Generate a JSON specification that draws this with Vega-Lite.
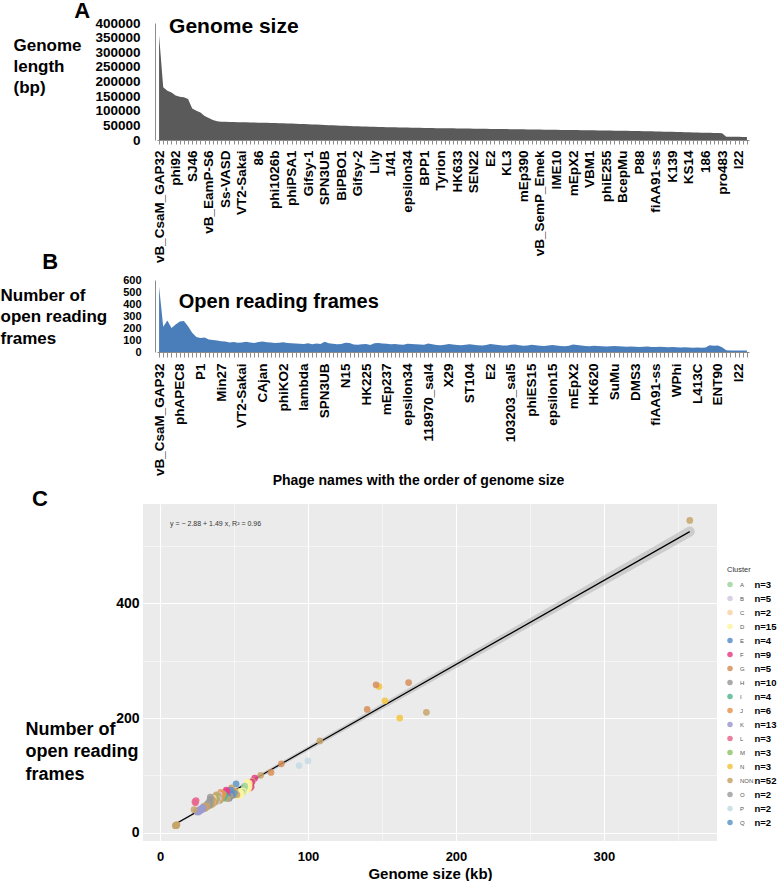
{
  "$schema": "https://vega.github.io/schema/vega-lite/v6.json",
  "background": "white",
  "padding": 0,
  "spacing": 0,
  "config": {"font": "Liberation Sans", "view": {"stroke": null}, "axis": {"labelOverlap": false}},
  "datasets": {
    "phages": [
      {"key": "000|vB_CsaM_GAP32", "genome_bp": 358000, "orfs": 545, "cluster": "NON", "cluster_n": "NON:n=52"},
      {"key": "001|", "genome_bp": 180000, "orfs": 210, "cluster": "NON", "cluster_n": "NON:n=52"},
      {"key": "002|", "genome_bp": 168000, "orfs": 262, "cluster": "G", "cluster_n": "G:n=5"},
      {"key": "003|", "genome_bp": 162000, "orfs": 200, "cluster": "N", "cluster_n": "N:n=3"},
      {"key": "004|phi92", "genome_bp": 152000, "orfs": 230, "cluster": "N", "cluster_n": "N:n=3"},
      {"key": "005|phAPEC8", "genome_bp": 148000, "orfs": 255, "cluster": "N", "cluster_n": "N:n=3"},
      {"key": "006|", "genome_bp": 146000, "orfs": 258, "cluster": "G", "cluster_n": "G:n=5"},
      {"key": "007|", "genome_bp": 140000, "orfs": 215, "cluster": "G", "cluster_n": "G:n=5"},
      {"key": "008|SJ46", "genome_bp": 108000, "orfs": 160, "cluster": "NON", "cluster_n": "NON:n=52"},
      {"key": "009|", "genome_bp": 100000, "orfs": 125, "cluster": "P", "cluster_n": "P:n=2"},
      {"key": "010|P1", "genome_bp": 94000, "orfs": 117, "cluster": "P", "cluster_n": "P:n=2"},
      {"key": "011|", "genome_bp": 82000, "orfs": 120, "cluster": "G", "cluster_n": "G:n=5"},
      {"key": "012|vB_EamP-S6", "genome_bp": 75000, "orfs": 105, "cluster": "G", "cluster_n": "G:n=5"},
      {"key": "013|", "genome_bp": 68000, "orfs": 100, "cluster": "NON", "cluster_n": "NON:n=52"},
      {"key": "014|", "genome_bp": 64000, "orfs": 95, "cluster": "F", "cluster_n": "F:n=9"},
      {"key": "015|Min27", "genome_bp": 62500, "orfs": 90, "cluster": "NON", "cluster_n": "NON:n=52"},
      {"key": "016|Ss-VASD", "genome_bp": 62000, "orfs": 88, "cluster": "F", "cluster_n": "F:n=9"},
      {"key": "017|", "genome_bp": 61600, "orfs": 80, "cluster": "F", "cluster_n": "F:n=9"},
      {"key": "018|", "genome_bp": 61200, "orfs": 84, "cluster": "F", "cluster_n": "F:n=9"},
      {"key": "019|", "genome_bp": 60900, "orfs": 78, "cluster": "F", "cluster_n": "F:n=9"},
      {"key": "020|VT2-Sakai", "genome_bp": 60600, "orfs": 80, "cluster": "NON", "cluster_n": "NON:n=52"},
      {"key": "021|", "genome_bp": 60300, "orfs": 86, "cluster": "D", "cluster_n": "D:n=15"},
      {"key": "022|", "genome_bp": 60000, "orfs": 80, "cluster": "D", "cluster_n": "D:n=15"},
      {"key": "023|", "genome_bp": 59700, "orfs": 76, "cluster": "D", "cluster_n": "D:n=15"},
      {"key": "024|86", "genome_bp": 59400, "orfs": 84, "cluster": "D", "cluster_n": "D:n=15"},
      {"key": "025|CAjan", "genome_bp": 59100, "orfs": 88, "cluster": "D", "cluster_n": "D:n=15"},
      {"key": "026|", "genome_bp": 58800, "orfs": 82, "cluster": "D", "cluster_n": "D:n=15"},
      {"key": "027|", "genome_bp": 58400, "orfs": 79, "cluster": "D", "cluster_n": "D:n=15"},
      {"key": "028|phi1026b", "genome_bp": 58000, "orfs": 74, "cluster": "D", "cluster_n": "D:n=15"},
      {"key": "029|", "genome_bp": 57600, "orfs": 77, "cluster": "D", "cluster_n": "D:n=15"},
      {"key": "030|phiKO2", "genome_bp": 57200, "orfs": 81, "cluster": "A", "cluster_n": "A:n=3"},
      {"key": "031|", "genome_bp": 56700, "orfs": 76, "cluster": "A", "cluster_n": "A:n=3"},
      {"key": "032|phiPSA1", "genome_bp": 56200, "orfs": 73, "cluster": "D", "cluster_n": "D:n=15"},
      {"key": "033|", "genome_bp": 55600, "orfs": 70, "cluster": "A", "cluster_n": "A:n=3"},
      {"key": "034|", "genome_bp": 55000, "orfs": 68, "cluster": "D", "cluster_n": "D:n=15"},
      {"key": "035|lambda", "genome_bp": 54400, "orfs": 66, "cluster": "D", "cluster_n": "D:n=15"},
      {"key": "036|Gifsy-1", "genome_bp": 53800, "orfs": 72, "cluster": "D", "cluster_n": "D:n=15"},
      {"key": "037|", "genome_bp": 53200, "orfs": 64, "cluster": "D", "cluster_n": "D:n=15"},
      {"key": "038|", "genome_bp": 52600, "orfs": 70, "cluster": "D", "cluster_n": "D:n=15"},
      {"key": "039|", "genome_bp": 52000, "orfs": 66, "cluster": "NON", "cluster_n": "NON:n=52"},
      {"key": "040|SPN3UB", "genome_bp": 51400, "orfs": 85, "cluster": "Q", "cluster_n": "Q:n=2"},
      {"key": "041|", "genome_bp": 50800, "orfs": 72, "cluster": "NON", "cluster_n": "NON:n=52"},
      {"key": "042|", "genome_bp": 50200, "orfs": 68, "cluster": "Q", "cluster_n": "Q:n=2"},
      {"key": "043|", "genome_bp": 49600, "orfs": 65, "cluster": "NON", "cluster_n": "NON:n=52"},
      {"key": "044|BiPBO1", "genome_bp": 49000, "orfs": 66, "cluster": "E", "cluster_n": "E:n=4"},
      {"key": "045|N15", "genome_bp": 48400, "orfs": 78, "cluster": "NON", "cluster_n": "NON:n=52"},
      {"key": "046|", "genome_bp": 47800, "orfs": 74, "cluster": "E", "cluster_n": "E:n=4"},
      {"key": "047|", "genome_bp": 47300, "orfs": 63, "cluster": "NON", "cluster_n": "NON:n=52"},
      {"key": "048|Gifsy-2", "genome_bp": 46800, "orfs": 60, "cluster": "E", "cluster_n": "E:n=4"},
      {"key": "049|", "genome_bp": 46400, "orfs": 64, "cluster": "NON", "cluster_n": "NON:n=52"},
      {"key": "050|HK225", "genome_bp": 46000, "orfs": 66, "cluster": "E", "cluster_n": "E:n=4"},
      {"key": "051|", "genome_bp": 45600, "orfs": 59, "cluster": "NON", "cluster_n": "NON:n=52"},
      {"key": "052|Lily", "genome_bp": 45200, "orfs": 72, "cluster": "F", "cluster_n": "F:n=9"},
      {"key": "053|", "genome_bp": 44800, "orfs": 74, "cluster": "F", "cluster_n": "F:n=9"},
      {"key": "054|", "genome_bp": 44400, "orfs": 70, "cluster": "F", "cluster_n": "F:n=9"},
      {"key": "055|mEp237", "genome_bp": 44000, "orfs": 68, "cluster": "F", "cluster_n": "F:n=9"},
      {"key": "056|1/41", "genome_bp": 43700, "orfs": 64, "cluster": "I", "cluster_n": "I:n=4"},
      {"key": "057|", "genome_bp": 43400, "orfs": 66, "cluster": "I", "cluster_n": "I:n=4"},
      {"key": "058|", "genome_bp": 43100, "orfs": 62, "cluster": "I", "cluster_n": "I:n=4"},
      {"key": "059|", "genome_bp": 42800, "orfs": 60, "cluster": "I", "cluster_n": "I:n=4"},
      {"key": "060|epsilon34", "genome_bp": 42500, "orfs": 68, "cluster": "NON", "cluster_n": "NON:n=52"},
      {"key": "061|", "genome_bp": 42200, "orfs": 66, "cluster": "J", "cluster_n": "J:n=6"},
      {"key": "062|", "genome_bp": 41900, "orfs": 64, "cluster": "J", "cluster_n": "J:n=6"},
      {"key": "063|", "genome_bp": 41600, "orfs": 62, "cluster": "J", "cluster_n": "J:n=6"},
      {"key": "064|BPP1", "genome_bp": 41300, "orfs": 60, "cluster": "J", "cluster_n": "J:n=6"},
      {"key": "065|118970_sal4", "genome_bp": 41000, "orfs": 70, "cluster": "J", "cluster_n": "J:n=6"},
      {"key": "066|", "genome_bp": 40800, "orfs": 64, "cluster": "J", "cluster_n": "J:n=6"},
      {"key": "067|", "genome_bp": 40600, "orfs": 58, "cluster": "NON", "cluster_n": "NON:n=52"},
      {"key": "068|Tyrion", "genome_bp": 40400, "orfs": 56, "cluster": "NON", "cluster_n": "NON:n=52"},
      {"key": "069|", "genome_bp": 40200, "orfs": 60, "cluster": "NON", "cluster_n": "NON:n=52"},
      {"key": "070|X29", "genome_bp": 40000, "orfs": 66, "cluster": "B", "cluster_n": "B:n=5"},
      {"key": "071|", "genome_bp": 39800, "orfs": 62, "cluster": "NON", "cluster_n": "NON:n=52"},
      {"key": "072|HK633", "genome_bp": 39600, "orfs": 58, "cluster": "B", "cluster_n": "B:n=5"},
      {"key": "073|", "genome_bp": 39400, "orfs": 56, "cluster": "NON", "cluster_n": "NON:n=52"},
      {"key": "074|", "genome_bp": 39200, "orfs": 60, "cluster": "B", "cluster_n": "B:n=5"},
      {"key": "075|ST104", "genome_bp": 39000, "orfs": 64, "cluster": "NON", "cluster_n": "NON:n=52"},
      {"key": "076|SEN22", "genome_bp": 38800, "orfs": 60, "cluster": "B", "cluster_n": "B:n=5"},
      {"key": "077|", "genome_bp": 38600, "orfs": 56, "cluster": "NON", "cluster_n": "NON:n=52"},
      {"key": "078|", "genome_bp": 38400, "orfs": 54, "cluster": "B", "cluster_n": "B:n=5"},
      {"key": "079|", "genome_bp": 38200, "orfs": 58, "cluster": "NON", "cluster_n": "NON:n=52"},
      {"key": "080|E2", "genome_bp": 38000, "orfs": 66, "cluster": "NON", "cluster_n": "NON:n=52"},
      {"key": "081|", "genome_bp": 37800, "orfs": 62, "cluster": "M", "cluster_n": "M:n=3"},
      {"key": "082|", "genome_bp": 37600, "orfs": 58, "cluster": "NON", "cluster_n": "NON:n=52"},
      {"key": "083|", "genome_bp": 37400, "orfs": 55, "cluster": "M", "cluster_n": "M:n=3"},
      {"key": "084|KL3", "genome_bp": 37200, "orfs": 54, "cluster": "NON", "cluster_n": "NON:n=52"},
      {"key": "085|103203_sal5", "genome_bp": 37000, "orfs": 60, "cluster": "M", "cluster_n": "M:n=3"},
      {"key": "086|", "genome_bp": 36800, "orfs": 62, "cluster": "NON", "cluster_n": "NON:n=52"},
      {"key": "087|", "genome_bp": 36600, "orfs": 56, "cluster": "NON", "cluster_n": "NON:n=52"},
      {"key": "088|mEp390", "genome_bp": 36400, "orfs": 52, "cluster": "NON", "cluster_n": "NON:n=52"},
      {"key": "089|", "genome_bp": 36200, "orfs": 54, "cluster": "NON", "cluster_n": "NON:n=52"},
      {"key": "090|phiES15", "genome_bp": 36000, "orfs": 60, "cluster": "C", "cluster_n": "C:n=2"},
      {"key": "091|", "genome_bp": 35800, "orfs": 56, "cluster": "NON", "cluster_n": "NON:n=52"},
      {"key": "092|vB_SemP_Emek", "genome_bp": 35600, "orfs": 52, "cluster": "C", "cluster_n": "C:n=2"},
      {"key": "093|", "genome_bp": 35400, "orfs": 50, "cluster": "NON", "cluster_n": "NON:n=52"},
      {"key": "094|", "genome_bp": 35200, "orfs": 54, "cluster": "NON", "cluster_n": "NON:n=52"},
      {"key": "095|epsilon15", "genome_bp": 35000, "orfs": 58, "cluster": "NON", "cluster_n": "NON:n=52"},
      {"key": "096|IME10", "genome_bp": 34800, "orfs": 54, "cluster": "NON", "cluster_n": "NON:n=52"},
      {"key": "097|", "genome_bp": 34600, "orfs": 50, "cluster": "NON", "cluster_n": "NON:n=52"},
      {"key": "098|", "genome_bp": 34400, "orfs": 48, "cluster": "NON", "cluster_n": "NON:n=52"},
      {"key": "099|", "genome_bp": 34200, "orfs": 52, "cluster": "NON", "cluster_n": "NON:n=52"},
      {"key": "100|mEpX2", "genome_bp": 34000, "orfs": 62, "cluster": "H", "cluster_n": "H:n=10"},
      {"key": "101|", "genome_bp": 33800, "orfs": 58, "cluster": "H", "cluster_n": "H:n=10"},
      {"key": "102|", "genome_bp": 33600, "orfs": 54, "cluster": "H", "cluster_n": "H:n=10"},
      {"key": "103|", "genome_bp": 33400, "orfs": 50, "cluster": "H", "cluster_n": "H:n=10"},
      {"key": "104|VBM1", "genome_bp": 33200, "orfs": 48, "cluster": "H", "cluster_n": "H:n=10"},
      {"key": "105|HK620", "genome_bp": 33000, "orfs": 52, "cluster": "H", "cluster_n": "H:n=10"},
      {"key": "106|", "genome_bp": 32800, "orfs": 50, "cluster": "H", "cluster_n": "H:n=10"},
      {"key": "107|", "genome_bp": 32600, "orfs": 48, "cluster": "H", "cluster_n": "H:n=10"},
      {"key": "108|phiE255", "genome_bp": 32400, "orfs": 46, "cluster": "H", "cluster_n": "H:n=10"},
      {"key": "109|", "genome_bp": 32200, "orfs": 48, "cluster": "H", "cluster_n": "H:n=10"},
      {"key": "110|SuMu", "genome_bp": 32000, "orfs": 50, "cluster": "O", "cluster_n": "O:n=2"},
      {"key": "111|", "genome_bp": 31800, "orfs": 48, "cluster": "O", "cluster_n": "O:n=2"},
      {"key": "112|BcepMu", "genome_bp": 31600, "orfs": 46, "cluster": "NON", "cluster_n": "NON:n=52"},
      {"key": "113|", "genome_bp": 31300, "orfs": 44, "cluster": "NON", "cluster_n": "NON:n=52"},
      {"key": "114|", "genome_bp": 31000, "orfs": 46, "cluster": "NON", "cluster_n": "NON:n=52"},
      {"key": "115|DMS3", "genome_bp": 30700, "orfs": 44, "cluster": "NON", "cluster_n": "NON:n=52"},
      {"key": "116|P88", "genome_bp": 30400, "orfs": 42, "cluster": "NON", "cluster_n": "NON:n=52"},
      {"key": "117|", "genome_bp": 30100, "orfs": 44, "cluster": "NON", "cluster_n": "NON:n=52"},
      {"key": "118|", "genome_bp": 29800, "orfs": 46, "cluster": "NON", "cluster_n": "NON:n=52"},
      {"key": "119|", "genome_bp": 29500, "orfs": 42, "cluster": "NON", "cluster_n": "NON:n=52"},
      {"key": "120|fiAA91-ss", "genome_bp": 29200, "orfs": 42, "cluster": "K", "cluster_n": "K:n=13"},
      {"key": "121|", "genome_bp": 28900, "orfs": 44, "cluster": "K", "cluster_n": "K:n=13"},
      {"key": "122|", "genome_bp": 28600, "orfs": 42, "cluster": "K", "cluster_n": "K:n=13"},
      {"key": "123|", "genome_bp": 28300, "orfs": 40, "cluster": "K", "cluster_n": "K:n=13"},
      {"key": "124|K139", "genome_bp": 28000, "orfs": 42, "cluster": "K", "cluster_n": "K:n=13"},
      {"key": "125|WPhi", "genome_bp": 27600, "orfs": 40, "cluster": "K", "cluster_n": "K:n=13"},
      {"key": "126|", "genome_bp": 27200, "orfs": 38, "cluster": "K", "cluster_n": "K:n=13"},
      {"key": "127|", "genome_bp": 26800, "orfs": 40, "cluster": "K", "cluster_n": "K:n=13"},
      {"key": "128|KS14", "genome_bp": 26400, "orfs": 38, "cluster": "K", "cluster_n": "K:n=13"},
      {"key": "129|", "genome_bp": 26000, "orfs": 36, "cluster": "K", "cluster_n": "K:n=13"},
      {"key": "130|L413C", "genome_bp": 25600, "orfs": 38, "cluster": "K", "cluster_n": "K:n=13"},
      {"key": "131|", "genome_bp": 25200, "orfs": 36, "cluster": "K", "cluster_n": "K:n=13"},
      {"key": "132|186", "genome_bp": 24800, "orfs": 37, "cluster": "K", "cluster_n": "K:n=13"},
      {"key": "133|", "genome_bp": 24400, "orfs": 56, "cluster": "L", "cluster_n": "L:n=3"},
      {"key": "134|", "genome_bp": 24000, "orfs": 52, "cluster": "L", "cluster_n": "L:n=3"},
      {"key": "135|ENT90", "genome_bp": 23600, "orfs": 54, "cluster": "L", "cluster_n": "L:n=3"},
      {"key": "136|pro483", "genome_bp": 23000, "orfs": 40, "cluster": "NON", "cluster_n": "NON:n=52"},
      {"key": "137|", "genome_bp": 11500, "orfs": 14, "cluster": "NON", "cluster_n": "NON:n=52"},
      {"key": "138|", "genome_bp": 11200, "orfs": 13, "cluster": "NON", "cluster_n": "NON:n=52"},
      {"key": "139|", "genome_bp": 11000, "orfs": 12, "cluster": "NON", "cluster_n": "NON:n=52"},
      {"key": "140|I22", "genome_bp": 10800, "orfs": 13, "cluster": "NON", "cluster_n": "NON:n=52"},
      {"key": "141|", "genome_bp": 10600, "orfs": 12, "cluster": "NON", "cluster_n": "NON:n=52"},
      {"key": "142|", "genome_bp": 10400, "orfs": 12, "cluster": "NON", "cluster_n": "NON:n=52"}
    ]
  },
  "data": {"name": "phages"},
  "vconcat": [
    {
      "width": 620,
      "height": 117,
      "layer": [
        {
          "mark": {"type": "area", "color": "#5a5a5a"},
          "encoding": {
            "x": {
              "field": "key", "type": "ordinal",
              "scale": {"type": "point", "range": [14, 606]},
              "axis": {
                "title": null, "labelAngle": 270, "labelFontSize": 13.5, "labelFontWeight": "bold",
                "labelColor": "black", "labelPadding": 6, "labelOverlap": false,
                "labelExpr": "toNumber(slice(datum.value,0,3)) % 4 === 0 ? slice(datum.value,4) : ''",
                "tickSize": 4, "tickColor": "#8c8c8c", "domainColor": "#8c8c8c", "grid": false
              }
            },
            "y": {
              "field": "genome_bp", "type": "quantitative",
              "scale": {"domain": [0, 400000], "nice": false},
              "axis": {
                "title": ["Genome", "length", "(bp)"], "titleAngle": 0, "titleAlign": "left", "titleBaseline": "top",
                "titleX": -142, "titleY": 14, "titleFontSize": 17, "titleFontWeight": "bold", "titleColor": "black",
                "titleLineHeight": 21,
                "values": [0, 50000, 100000, 150000, 200000, 250000, 300000, 350000, 400000],
                "format": "d", "labelOverlap": false,
                "labelFontSize": 13.5, "labelFontWeight": "bold", "labelColor": "black",
                "ticks": false, "labelPadding": 15, "domainColor": "#8c8c8c", "grid": false, "offset": -12
              }
            }
          }
        },
        {
          "data": {"values": [{"label": "Genome size"}]},
          "mark": {"type": "text", "align": "left", "baseline": "middle", "fontSize": 21, "fontWeight": "bold", "color": "black", "dx": 1.7},
          "encoding": {
            "x": {"datum": "002|", "type": "ordinal"},
            "y": {"datum": 386000, "type": "quantitative", "axis": {
                "title": ["Genome", "length", "(bp)"], "titleAngle": 0, "titleAlign": "left", "titleBaseline": "top",
                "titleX": -142, "titleY": 14, "titleFontSize": 17, "titleFontWeight": "bold", "titleColor": "black",
                "titleLineHeight": 21,
                "values": [0, 50000, 100000, 150000, 200000, 250000, 300000, 350000, 400000],
                "format": "d", "labelOverlap": false,
                "labelFontSize": 13.5, "labelFontWeight": "bold", "labelColor": "black",
                "ticks": false, "labelPadding": 15, "domainColor": "#8c8c8c", "grid": false, "offset": -12
            }},
            "text": {"field": "label"}
          }
        },
        {
          "data": {"values": [{"label": "A"}]},
          "mark": {"type": "text", "align": "center", "baseline": "middle", "fontSize": 22, "fontWeight": "bold", "color": "black", "dx": -77},
          "encoding": {
            "x": {"datum": "000|vB_CsaM_GAP32", "type": "ordinal"},
            "y": {"datum": 440000, "type": "quantitative", "axis": {
                "title": ["Genome", "length", "(bp)"], "titleAngle": 0, "titleAlign": "left", "titleBaseline": "top",
                "titleX": -142, "titleY": 14, "titleFontSize": 17, "titleFontWeight": "bold", "titleColor": "black",
                "titleLineHeight": 21,
                "values": [0, 50000, 100000, 150000, 200000, 250000, 300000, 350000, 400000],
                "format": "d", "labelOverlap": false,
                "labelFontSize": 13.5, "labelFontWeight": "bold", "labelColor": "black",
                "ticks": false, "labelPadding": 15, "domainColor": "#8c8c8c", "grid": false, "offset": -12
            }},
            "text": {"field": "label"}
          }
        },
        {
          "data": {"values": [{"label": "B"}]},
          "mark": {"type": "text", "align": "center", "baseline": "middle", "fontSize": 22, "fontWeight": "bold", "color": "black", "dx": -109},
          "encoding": {
            "x": {"datum": "000|vB_CsaM_GAP32", "type": "ordinal"},
            "y": {"datum": -418500, "type": "quantitative", "axis": {
                "title": ["Genome", "length", "(bp)"], "titleAngle": 0, "titleAlign": "left", "titleBaseline": "top",
                "titleX": -142, "titleY": 14, "titleFontSize": 17, "titleFontWeight": "bold", "titleColor": "black",
                "titleLineHeight": 21,
                "values": [0, 50000, 100000, 150000, 200000, 250000, 300000, 350000, 400000],
                "format": "d", "labelOverlap": false,
                "labelFontSize": 13.5, "labelFontWeight": "bold", "labelColor": "black",
                "ticks": false, "labelPadding": 15, "domainColor": "#8c8c8c", "grid": false, "offset": -12
            }},
            "text": {"field": "label"}
          }
        }
      ]
    },
    {
      "width": 620,
      "height": 72,
      "layer": [
        {
          "mark": {"type": "area", "color": "#4a7ebb"},
          "encoding": {
            "x": {
              "field": "key", "type": "ordinal",
              "scale": {"type": "point", "range": [14, 606]},
              "axis": {
                "title": "Phage names with the order of genome size", "titleFontSize": 14, "titleFontWeight": "bold",
                "titleColor": "black", "titleX": 275, "titleY": 128.4, "titleBaseline": "middle", "titleAlign": "center",
                "labelAngle": 270, "labelFontSize": 13.5, "labelFontWeight": "bold",
                "labelColor": "black", "labelPadding": 6, "labelOverlap": false,
                "labelExpr": "toNumber(slice(datum.value,0,3)) % 5 === 0 ? slice(datum.value,4) : ''",
                "tickSize": 5, "tickColor": "#8c8c8c", "domainColor": "#8c8c8c", "grid": false
              }
            },
            "y": {
              "field": "orfs", "type": "quantitative",
              "scale": {"domain": [0, 600], "nice": false},
              "axis": {
                "title": ["Number of", "open reading", "frames"], "titleAngle": 0, "titleAlign": "left", "titleBaseline": "top",
                "titleX": -155, "titleY": 7, "titleFontSize": 17, "titleFontWeight": "bold", "titleColor": "black",
                "titleLineHeight": 21.7,
                "values": [0, 100, 200, 300, 400, 500, 600], "labelOverlap": false,
                "labelFontSize": 11, "labelFontWeight": "bold", "labelColor": "black",
                "ticks": false, "labelPadding": 14, "domainColor": "#8c8c8c", "grid": false, "offset": -12
              }
            }
          }
        },
        {
          "data": {"values": [{"label": "Open reading frames"}]},
          "mark": {"type": "text", "align": "left", "baseline": "middle", "fontSize": 20, "fontWeight": "bold", "color": "black", "dx": -1},
          "encoding": {
            "x": {"datum": "005|phAPEC8", "type": "ordinal"},
            "y": {"datum": 416.7, "type": "quantitative", "axis": {
                "title": ["Number of", "open reading", "frames"], "titleAngle": 0, "titleAlign": "left", "titleBaseline": "top",
                "titleX": -155, "titleY": 7, "titleFontSize": 17, "titleFontWeight": "bold", "titleColor": "black",
                "titleLineHeight": 21.7,
                "values": [0, 100, 200, 300, 400, 500, 600], "labelOverlap": false,
                "labelFontSize": 11, "labelFontWeight": "bold", "labelColor": "black",
                "ticks": false, "labelPadding": 14, "domainColor": "#8c8c8c", "grid": false, "offset": -12
            }},
            "text": {"field": "label"}
          }
        }
      ]
    },
    {
      "width": 574,
      "height": 337,
      "view": {"fill": "#ebebeb", "stroke": null},
      "layer": [
        {
          "transform": [{"regression": "orfs", "on": "genome_bp"}],
          "mark": {"type": "trail", "color": "#9e9e9e", "opacity": 0.4},
          "encoding": {
            "x": {
              "field": "genome_bp", "type": "quantitative",
              "scale": {"domain": [-11500, 376400], "nice": false, "zero": false},
              "axis": {
                "title": "Genome size (kb)", "titleFontSize": 15, "titleFontWeight": "bold", "titleColor": "black", "titlePadding": 3,
                "values": [0, 50000, 100000, 150000, 200000, 250000, 300000, 350000],
                "labelExpr": "datum.value % 100000 === 0 ? format(datum.value / 1000, 'd') : ''",
                "labelFontSize": 13, "labelFontWeight": "bold", "labelColor": "black", "labelPadding": 9,
                "ticks": false, "domain": false,
                "grid": true, "gridColor": "white",
                "gridWidth": {"condition": {"test": "datum.value % 100000 === 0", "value": 1.1}, "value": 0.5}
              }
            },
            "y": {
              "field": "orfs", "type": "quantitative",
              "scale": {"domain": [-14.75, 573.75], "nice": false, "zero": false},
              "axis": {
                "title": ["Number of", "open reading", "frames"], "titleAngle": 0, "titleAlign": "left", "titleBaseline": "top",
                "titleX": -118, "titleY": 216, "titleFontSize": 18, "titleFontWeight": "bold", "titleColor": "black",
                "titleLineHeight": 22.5,
                "values": [0, 100, 200, 300, 400, 500],
                "labelExpr": "datum.value % 200 === 0 ? datum.label : ''",
                "labelFontSize": 14, "labelFontWeight": "bold", "labelColor": "black", "labelPadding": 4,
                "ticks": false, "domain": false,
                "grid": true, "gridColor": "white",
                "gridWidth": {"condition": {"test": "datum.value % 200 === 0", "value": 1.1}, "value": 0.5}
              }
            },
            "size": {"field": "genome_bp", "type": "quantitative", "scale": {"domain": [10400, 358000], "range": [2, 10]}, "legend": null}
          }
        },
        {
          "transform": [{"regression": "orfs", "on": "genome_bp"}],
          "mark": {"type": "line", "color": "black", "strokeWidth": 1.2},
          "encoding": {
            "x": {"field": "genome_bp", "type": "quantitative"},
            "y": {"field": "orfs", "type": "quantitative"}
          }
        },
        {
          "mark": {"type": "point", "filled": true, "size": 45, "opacity": 0.85, "strokeWidth": 0},
          "encoding": {
            "x": {"field": "genome_bp", "type": "quantitative"},
            "y": {"field": "orfs", "type": "quantitative"},
            "color": {
              "field": "cluster", "type": "nominal",
              "scale": {
                "domain": ["A", "B", "C", "D", "E", "F", "G", "H", "I", "J", "K", "L", "M", "N", "NON", "O", "P", "Q"],
                "range": ["#9fd3a0", "#d3c8e0", "#f8d3a8", "#fdf5a0", "#5b8fc9", "#e7408a", "#d68f5b", "#9b9b9b", "#57b98f", "#e8944f", "#9c9bcf", "#e9698f", "#93c66b", "#f2c43d", "#c7a56a", "#a0a0a0", "#c6dce4", "#5e98c8"]
              },
              "legend": {
                "title": "Cluster", "orient": "none", "legendX": 584, "legendY": 543,
                "titleFontSize": 7.5, "titleFontWeight": "normal", "titleColor": "#333333", "titlePadding": 4,
                "labelFontSize": 6, "labelColor": "#555555", "labelOffset": 7,
                "symbolType": "circle", "symbolSize": 30, "symbolStrokeWidth": 0,
                "clipHeight": 14, "rowPadding": -2.75, "padding": 0
              }
            },
            "shape": {
              "field": "cluster_n", "type": "nominal",
              "scale": {"range": ["circle"]},
              "legend": {
                "title": " ", "titleOpacity": 0, "orient": "none", "legendX": 602, "legendY": 543,
                "titleFontSize": 7.5, "titleFontWeight": "normal", "titlePadding": 4,
                "labelExpr": "split(datum.label, ':')[1]",
                "labelFontSize": 9.5, "labelFontWeight": "bold", "labelColor": "black", "labelOffset": 0,
                "symbolSize": 1, "symbolOpacity": 0, "symbolStrokeWidth": 0,
                "clipHeight": 14, "rowPadding": -2.75, "padding": 0
              }
            }
          }
        },
        {
          "data": {"values": [{"label": "y = − 2.88 + 1.49 x,  R² = 0.96"}]},
          "mark": {"type": "text", "align": "left", "baseline": "middle", "fontSize": 7, "color": "#333333"},
          "encoding": {"x": {"datum": 6750, "type": "quantitative"}, "y": {"datum": 538.8, "type": "quantitative"}, "text": {"field": "label"}}
        },
        {
          "data": {"values": [{"label": "C"}]},
          "mark": {"type": "text", "align": "center", "baseline": "middle", "fontSize": 22, "fontWeight": "bold", "color": "black"},
          "encoding": {"x": {"datum": -81100, "type": "quantitative"}, "y": {"datum": 582.3, "type": "quantitative"}, "text": {"field": "label"}}
        }
      ]
    }
  ]
}
